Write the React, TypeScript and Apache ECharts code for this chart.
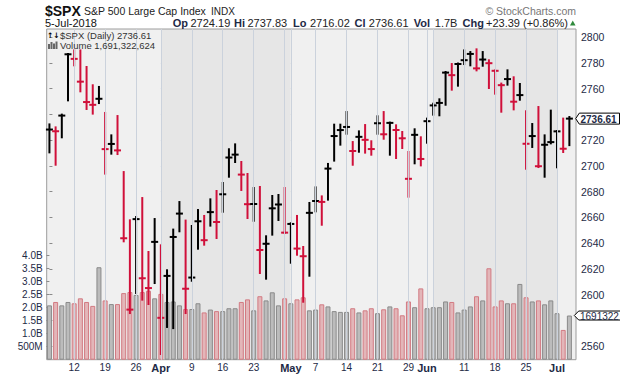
import React, { useEffect, useRef } from 'react';
import * as echarts from 'echarts';

// ---------- data ----------
const dates = [
  '2018-03-06','2018-03-07','2018-03-08','2018-03-09','2018-03-12','2018-03-13','2018-03-14','2018-03-15','2018-03-16',
  '2018-03-19','2018-03-20','2018-03-21','2018-03-22','2018-03-23','2018-03-26','2018-03-27','2018-03-28','2018-03-29',
  '2018-04-02','2018-04-03','2018-04-04','2018-04-05','2018-04-06','2018-04-09','2018-04-10','2018-04-11','2018-04-12',
  '2018-04-13','2018-04-16','2018-04-17','2018-04-18','2018-04-19','2018-04-20','2018-04-23','2018-04-24','2018-04-25',
  '2018-04-26','2018-04-27','2018-04-30','2018-05-01','2018-05-02','2018-05-03','2018-05-04','2018-05-07','2018-05-08',
  '2018-05-09','2018-05-10','2018-05-11','2018-05-14','2018-05-15','2018-05-16','2018-05-17','2018-05-18','2018-05-21',
  '2018-05-22','2018-05-23','2018-05-24','2018-05-25','2018-05-29','2018-05-30','2018-05-31','2018-06-01','2018-06-04',
  '2018-06-05','2018-06-06','2018-06-07','2018-06-08','2018-06-11','2018-06-12','2018-06-13','2018-06-14','2018-06-15',
  '2018-06-18','2018-06-19','2018-06-20','2018-06-21','2018-06-22','2018-06-25','2018-06-26','2018-06-27','2018-06-28',
  '2018-06-29','2018-07-02','2018-07-03','2018-07-05',
];
const highs = [
  2732.1, 2729.8, 2739.7, 2786.8, 2789.6, 2789.6, 2776.7, 2762.5, 2761.2, 2741.0,
  2723.6, 2738.6, 2695.1, 2657.6, 2660.2, 2674.9, 2633.0, 2658.6, 2638.2, 2618.8,
  2650.4, 2671.8, 2657.4, 2653.2, 2665.6, 2661.0, 2673.9, 2680.4, 2686.6, 2712.8,
  2716.6, 2702.9, 2693.6, 2682.7, 2683.5, 2645.2, 2676.5, 2677.3, 2682.7, 2655.3,
  2661.0, 2636.9, 2671.1, 2683.2, 2676.2, 2701.4, 2731.9, 2731.9, 2741.7, 2718.4,
  2726.7, 2731.6, 2719.0, 2738.4, 2741.7, 2733.5, 2731.4, 2726.2, 2710.7, 2728.3,
  2722.1, 2736.6, 2748.2, 2751.6, 2772.8, 2779.0, 2779.4, 2789.6, 2788.3, 2790.4,
  2788.3, 2781.9, 2774.0, 2763.8, 2774.1, 2768.7, 2763.5, 2742.3, 2732.4, 2745.6,
  2723.6, 2742.8, 2727.0, 2736.6, 2737.83,
];
const lows = [
  2710.4, 2700.8, 2722.1, 2750.8, 2778.0, 2757.8, 2744.1, 2740.5, 2748.7, 2693.9,
  2709.4, 2709.1, 2641.3, 2585.6, 2601.2, 2596.0, 2592.6, 2608.9, 2553.8, 2574.8,
  2573.9, 2649.1, 2585.6, 2610.7, 2635.6, 2638.7, 2653.5, 2643.9, 2664.3, 2691.5,
  2702.9, 2681.2, 2659.4, 2657.3, 2616.7, 2612.3, 2646.5, 2657.9, 2647.8, 2624.7,
  2630.9, 2594.4, 2614.6, 2664.6, 2654.2, 2673.7, 2704.0, 2716.4, 2724.9, 2700.8,
  2710.9, 2710.2, 2708.6, 2724.9, 2721.0, 2708.6, 2706.0, 2713.8, 2676.0, 2701.9,
  2700.3, 2717.9, 2739.7, 2739.2, 2747.4, 2759.1, 2762.2, 2779.0, 2778.0, 2774.1,
  2777.7, 2760.4, 2756.0, 2742.0, 2763.0, 2743.8, 2751.3, 2697.7, 2714.6, 2699.0,
  2691.5, 2717.4, 2698.8, 2710.7, 2716.02,
];
const closes = [
  2728.12, 2726.80, 2738.97, 2786.57, 2783.02, 2765.31, 2749.48, 2747.33, 2752.01, 2712.92,
  2716.94, 2711.93, 2643.69, 2588.26, 2658.55, 2612.62, 2605.00, 2640.87, 2581.88, 2614.45,
  2644.69, 2662.84, 2604.47, 2613.16, 2656.87, 2642.19, 2663.99, 2656.30, 2677.84, 2706.39,
  2708.64, 2693.13, 2670.14, 2670.29, 2634.56, 2639.40, 2666.94, 2669.91, 2648.05, 2654.80,
  2635.67, 2629.73, 2663.42, 2672.63, 2671.92, 2697.79, 2723.07, 2727.72, 2730.13, 2711.45,
  2722.46, 2720.13, 2712.97, 2733.01, 2724.44, 2733.29, 2727.76, 2721.33, 2689.86, 2724.01,
  2705.27, 2734.62, 2746.87, 2748.80, 2772.35, 2770.37, 2779.03, 2782.00, 2786.85, 2775.63,
  2782.49, 2779.66, 2773.75, 2762.59, 2767.32, 2749.76, 2754.88, 2717.07, 2723.06, 2699.63,
  2716.31, 2718.37, 2726.71, 2713.22, 2736.61,
];
// volume in billions of shares
const volumesB = [
  2.08, 2.21, 2.08, 2.21, 2.16, 2.35, 2.21, 2.06, 3.54, 2.27,
  2.13, 2.13, 2.55, 2.59, 2.48, 2.59, 2.64, 2.35, 2.52, 2.21,
  2.23, 2.08, 1.94, 1.94, 2.16, 1.81, 1.92, 1.86, 1.86, 1.97,
  1.97, 2.21, 2.31, 1.89, 2.43, 2.27, 2.58, 2.08, 2.35, 2.16,
  2.31, 2.39, 1.89, 1.92, 2.12, 2.04, 1.86, 1.83, 1.83, 1.97,
  1.81, 1.89, 1.97, 1.78, 1.93, 2.04, 1.97, 1.70, 2.23, 2.01,
  2.73, 1.97, 2.01, 2.01, 2.23, 2.21, 1.81, 1.92, 2.04, 2.43,
  2.27, 3.50, 2.04, 2.27, 2.16, 2.16, 2.90, 2.39, 2.23, 2.27,
  2.12, 2.27, 1.78, 1.14, 1.691322624,
];
const prevClose = 2720.94; // close before the first bar
const lastOpen = 2724.19;
const lastVolumeText = '1,691,322,624';

const gridDates = [
  '2018-03-12','2018-03-19','2018-03-26','2018-04-02','2018-04-09','2018-04-16','2018-04-23','2018-04-30',
  '2018-05-01','2018-05-07','2018-05-14','2018-05-21','2018-05-29','2018-06-01','2018-06-04','2018-06-11',
  '2018-06-18','2018-06-25','2018-07-02',
];
const gridLabels = ['12','19','26','Apr','9','16','23','','May','7','14','21','29','Jun','','11','18','25','Jul'];
const monthLabels = ['Apr', 'May', 'Jun', 'Jul'];
const monthStarts = ['2018-04-02', '2018-05-01', '2018-06-04', '2018-07-02'];
const priceTicks = [2560, 2580, 2600, 2620, 2640, 2660, 2680, 2700, 2720, 2740, 2760, 2780, 2800];
const volumeTicks = [0.5, 1.0, 1.5, 2.0, 2.5, 3.0, 3.5, 4.0];

// ---------- layout / style ----------
const W = 620, H = 376;
const PLOT_L = 46.7, PLOT_R = 576, PLOT_T = 29, PLOT_B = 359.7;
const Y_2800 = 37, PX_PER_PT = 1.2875;
const PRICE_MIN = 2540, PRICE_MAX = 2820;
const PX_PER_B = 26.12;
const VOL_MIN = -0.5, VOL_MAX = 4;
const X_MIN = -0.44, X_MAX = 85.07;

const PRICE_TOP = 2800 + (Y_2800 - PLOT_T) / PX_PER_PT;
const PRICE_BOTTOM = 2800 - (PLOT_B - Y_2800) / PX_PER_PT;
const priceGridTop = Y_2800 - (PRICE_MAX - 2800) * PX_PER_PT;
const priceGridBottom = H - (Y_2800 + (2800 - PRICE_MIN) * PX_PER_PT);
const volGridTop = PLOT_B - VOL_MAX * PX_PER_B;
const volGridBottom = H - (PLOT_B - VOL_MIN * PX_PER_B);

const FONT = '"Liberation Sans", Arial, sans-serif';
const LIGHT_BG = '#f0f0f0', DARK_BG = '#e6e6e6', GRID = '#cbd2dc';
const UP = '#000000', DOWN = '#d0103a';
const VOL_UP_FILL = '#bcbcbc', VOL_UP_BORDER = '#8a8a8a';
const VOL_DN_FILL = '#e3b6b9', VOL_DN_BORDER = '#d27a82';
const AXIS_TEXT = '#1e2a46';

const idx = (d: string) => dates.indexOf(d);
const dirs = closes.map((c, i) => (c >= (i === 0 ? prevClose : closes[i - 1]) ? 1 : -1));

// price labels hidden where the last-value markers cover them
const priceY = (v: number) => Y_2800 + (2800 - v) * PX_PER_PT;
const markerYs = [priceY(closes[closes.length - 1]), PLOT_B - volumesB[volumesB.length - 1] * PX_PER_B];
const covered = (v: number) => markerYs.some((y) => Math.abs(priceY(v) - y) < 9);

function buildOption() {
  const bounds = [X_MIN, ...monthStarts.map(idx), X_MAX];
  const bands = [];
  for (let k = 0; k < bounds.length - 1; k++) {
    bands.push([
      { coord: [bounds[k], PRICE_TOP], itemStyle: { color: k % 2 === 0 ? LIGHT_BG : DARK_BG } },
      { coord: [bounds[k + 1], PRICE_BOTTOM] },
    ]);
  }
  const vLines = gridDates.map((d, k) => {
    const isMonth = monthLabels.includes(gridLabels[k]);
    return [
      {
        name: gridLabels[k],
        coord: [idx(d), PRICE_TOP],
        label: isMonth ? { fontWeight: 'bold', fontSize: 11 } : {},
      },
      { coord: [idx(d), PRICE_BOTTOM] },
    ];
  });

  return {
    animation: false,
    backgroundColor: '#ffffff',
    grid: [
      { left: PLOT_L, right: W - PLOT_R, top: priceGridTop, bottom: priceGridBottom },
      { left: PLOT_L, right: W - PLOT_R, top: volGridTop, bottom: volGridBottom },
    ],
    xAxis: [
      { gridIndex: 0, type: 'value', min: X_MIN, max: X_MAX, show: false },
      { gridIndex: 1, type: 'value', min: X_MIN, max: X_MAX, show: false },
    ],
    yAxis: [
      {
        gridIndex: 0, type: 'value', position: 'right', min: PRICE_MIN, max: PRICE_MAX, interval: 20, z: 1,
        axisLine: { show: false },
        axisTick: { show: true, length: 3, customValues: priceTicks, lineStyle: { color: '#8a8a8a' } },
        axisLabel: {
          customValues: priceTicks,
          formatter: (v: number) => (v < 2560 || v > 2800 || covered(v) ? '' : String(v)),
          color: AXIS_TEXT, fontSize: 10.5, fontFamily: FONT, margin: 5,
        },
        splitLine: { show: true, showMinLine: false, showMaxLine: false, lineStyle: { color: GRID, width: 1 } },
      },
      {
        gridIndex: 1, type: 'value', position: 'left', min: VOL_MIN, max: VOL_MAX, interval: 0.5, z: 1,
        axisLine: { show: false },
        axisTick: { show: true, length: 3, customValues: volumeTicks, lineStyle: { color: '#8a8a8a' } },
        axisLabel: {
          customValues: volumeTicks,
          formatter: (v: number) => (v <= 0 ? '' : v < 1 ? `${Math.round(v * 1000)}M` : `${v.toFixed(1)}B`),
          color: AXIS_TEXT, fontSize: 10, fontFamily: FONT, margin: 4,
        },
        splitLine: { show: false },
      },
    ],
    series: [
      {
        name: 'bands', type: 'line', xAxisIndex: 0, yAxisIndex: 0, data: [], z: 0, silent: true,
        markArea: { silent: true, label: { show: false }, data: bands },
      },
      {
        name: 'vgrid', type: 'line', xAxisIndex: 0, yAxisIndex: 0, data: [], z: 1, silent: true,
        markLine: {
          silent: true, symbol: ['none', 'none'],
          lineStyle: { color: GRID, width: 1, type: 'solid' },
          label: {
            show: true, position: 'end', formatter: '{b}', distance: 3,
            color: AXIS_TEXT, fontSize: 10, fontFamily: FONT,
          },
          emphasis: { disabled: true },
          data: vLines,
        },
      },
      {
        name: 'Volume', type: 'bar', xAxisIndex: 1, yAxisIndex: 1, z: 2, barWidth: 5,
        data: volumesB.map((v, i) => ({
          value: [i, v],
          itemStyle: {
            color: dirs[i] > 0 ? VOL_UP_FILL : VOL_DN_FILL,
            borderColor: dirs[i] > 0 ? VOL_UP_BORDER : VOL_DN_BORDER,
            borderWidth: 1,
          },
        })),
      },
      {
        name: '$SPX', type: 'custom', xAxisIndex: 0, yAxisIndex: 0, z: 3,
        data: dates.map((d, i) => [i, highs[i], lows[i], closes[i], dirs[i]]),
        encode: { x: 0, y: [1, 2, 3] },
        renderItem: (params: any, api: any) => {
          const i = api.value(0);
          const hi = api.coord([i, api.value(1)]);
          const lo = api.coord([i, api.value(2)]);
          const cl = api.coord([i, api.value(3)]);
          const color = api.value(4) > 0 ? UP : DOWN;
          return {
            type: 'group',
            children: [
              { type: 'line', shape: { x1: hi[0], y1: hi[1] - 1, x2: lo[0], y2: lo[1] + 1 }, style: { stroke: color, lineWidth: 2 } },
              { type: 'line', shape: { x1: cl[0] - 3.5, y1: cl[1], x2: cl[0] + 3.5, y2: cl[1] }, style: { stroke: color, lineWidth: 2 } },
            ],
          };
        },
      },
      {
        name: 'frame', type: 'line', xAxisIndex: 0, yAxisIndex: 0, data: [], z: 5, silent: true,
        markArea: {
          silent: true, label: { show: false },
          itemStyle: { color: 'rgba(0,0,0,0)', borderColor: '#9c9c9c', borderWidth: 1 },
          data: [[{ coord: [X_MIN, PRICE_TOP] }, { coord: [X_MAX, PRICE_BOTTOM] }]],
        },
      },
    ],
  };
}

function txt(x: number, y: number, text: string, o: any = {}) {
  return {
    type: 'text', x, y, z: 10,
    style: {
      text, fill: o.fill || '#222', fontSize: o.size || 11, fontWeight: o.bold ? 'bold' : 'normal',
      fontFamily: o.family || FONT, align: o.align || 'left', verticalAlign: 'middle',
    },
  };
}

function buildGraphics(yP: number, yV: number) {
  const n = closes.length - 1;
  const chg = closes[n] - closes[n - 1];
  const pct = (chg / closes[n - 1]) * 100;
  const sign = (v: number) => (v >= 0 ? '+' : '');
  const volText = `${(volumesB[n]).toFixed(1)}B`;
  const g: any[] = [
    txt(45, 10.5, '$SPX', { size: 14, bold: true, fill: '#111' }),
    txt(84, 11, 'S&P 500 Large Cap Index', { size: 10.5 }),
    txt(211, 11, 'INDX', { size: 10 }),
    txt(576, 11, '© StockCharts.com', { size: 10.5, fill: '#777', align: 'right' }),
    txt(45, 23, '5-Jul-2018', { size: 11, fill: '#111' }),
    txt(172.7, 23, 'Op', { bold: true, fill: AXIS_TEXT }),
    txt(190.5, 23, lastOpen.toFixed(2)),
    txt(234, 23, 'Hi', { bold: true, fill: AXIS_TEXT }),
    txt(247.4, 23, highs[n].toFixed(2)),
    txt(293, 23, 'Lo', { bold: true, fill: AXIS_TEXT }),
    txt(310, 23, lows[n].toFixed(2)),
    txt(354.5, 23, 'Cl', { bold: true, fill: AXIS_TEXT }),
    txt(368.8, 23, closes[n].toFixed(2)),
    txt(413.8, 23, 'Vol', { bold: true, fill: AXIS_TEXT }),
    txt(434.8, 23, volText),
    txt(462.5, 23, 'Chg', { bold: true, fill: AXIS_TEXT }),
    txt(486, 23, `${sign(chg)}${chg.toFixed(2)} (${sign(pct)}${pct.toFixed(2)}%)`),
    {
      type: 'polygon', z: 10,
      shape: { points: [[570, 25.5], [575.5, 25.5], [572.75, 20.5]] },
      style: { fill: '#2f8a3c' },
    },
    // legend
    txt(47, 35, '↑↓', { size: 7.5, bold: true, fill: '#000', family: '"DejaVu Sans", sans-serif' }),
    txt(60, 35, `$SPX (Daily) ${closes[n].toFixed(2)}`, { size: 9.5, fill: '#333' }),
    { type: 'rect', z: 10, shape: { x: 48, y: 44, width: 2, height: 5 }, style: { fill: '#666' } },
    { type: 'rect', z: 10, shape: { x: 50.5, y: 42, width: 2, height: 7 }, style: { fill: '#666' } },
    { type: 'rect', z: 10, shape: { x: 53, y: 43.5, width: 2, height: 5.5 }, style: { fill: '#666' } },
    { type: 'rect', z: 10, shape: { x: 55.5, y: 41.5, width: 2, height: 7.5 }, style: { fill: '#666' } },
    txt(60, 45, `Volume ${lastVolumeText}`, { size: 9.5, fill: '#333' }),
    // last price marker
    {
      type: 'polygon', z: 10,
      shape: { points: [[575.7, yP], [579.3, yP - 5.5], [619.5, yP - 5.5], [619.5, yP + 5.5], [579.3, yP + 5.5]] },
      style: { fill: '#ffffff', stroke: '#000', lineWidth: 1 },
    },
    txt(580.5, yP + 0.5, closes[n].toFixed(2), { size: 10, bold: true, fill: AXIS_TEXT }),
    // last volume marker
    {
      type: 'polygon', z: 10,
      shape: { points: [[574.3, yV], [578.7, yV - 4.5], [621, yV - 4.5], [621, yV + 4.5], [578.7, yV + 4.5]] },
      style: { fill: '#ffffff', stroke: '#000', lineWidth: 1 },
    },
    txt(580, yV + 0.5, '1691322', { size: 10, fill: AXIS_TEXT }),
  ];
  return g;
}

export default function App() {
  const ref = useRef<HTMLDivElement>(null);
  useEffect(() => {
    const chart = echarts.init(ref.current!, undefined, { renderer: 'svg', width: W, height: H });
    chart.setOption(buildOption() as any);
    const yP = chart.convertToPixel({ yAxisIndex: 0 } as any, closes[closes.length - 1]) as unknown as number;
    const yV = chart.convertToPixel({ yAxisIndex: 1 } as any, volumesB[volumesB.length - 1]) as unknown as number;
    chart.setOption({ graphic: buildGraphics(yP, yV) } as any);
    return () => chart.dispose();
  }, []);
  return <div ref={ref} style={{ position: 'fixed', left: 0, top: 0, width: W, height: H }} />;
}
